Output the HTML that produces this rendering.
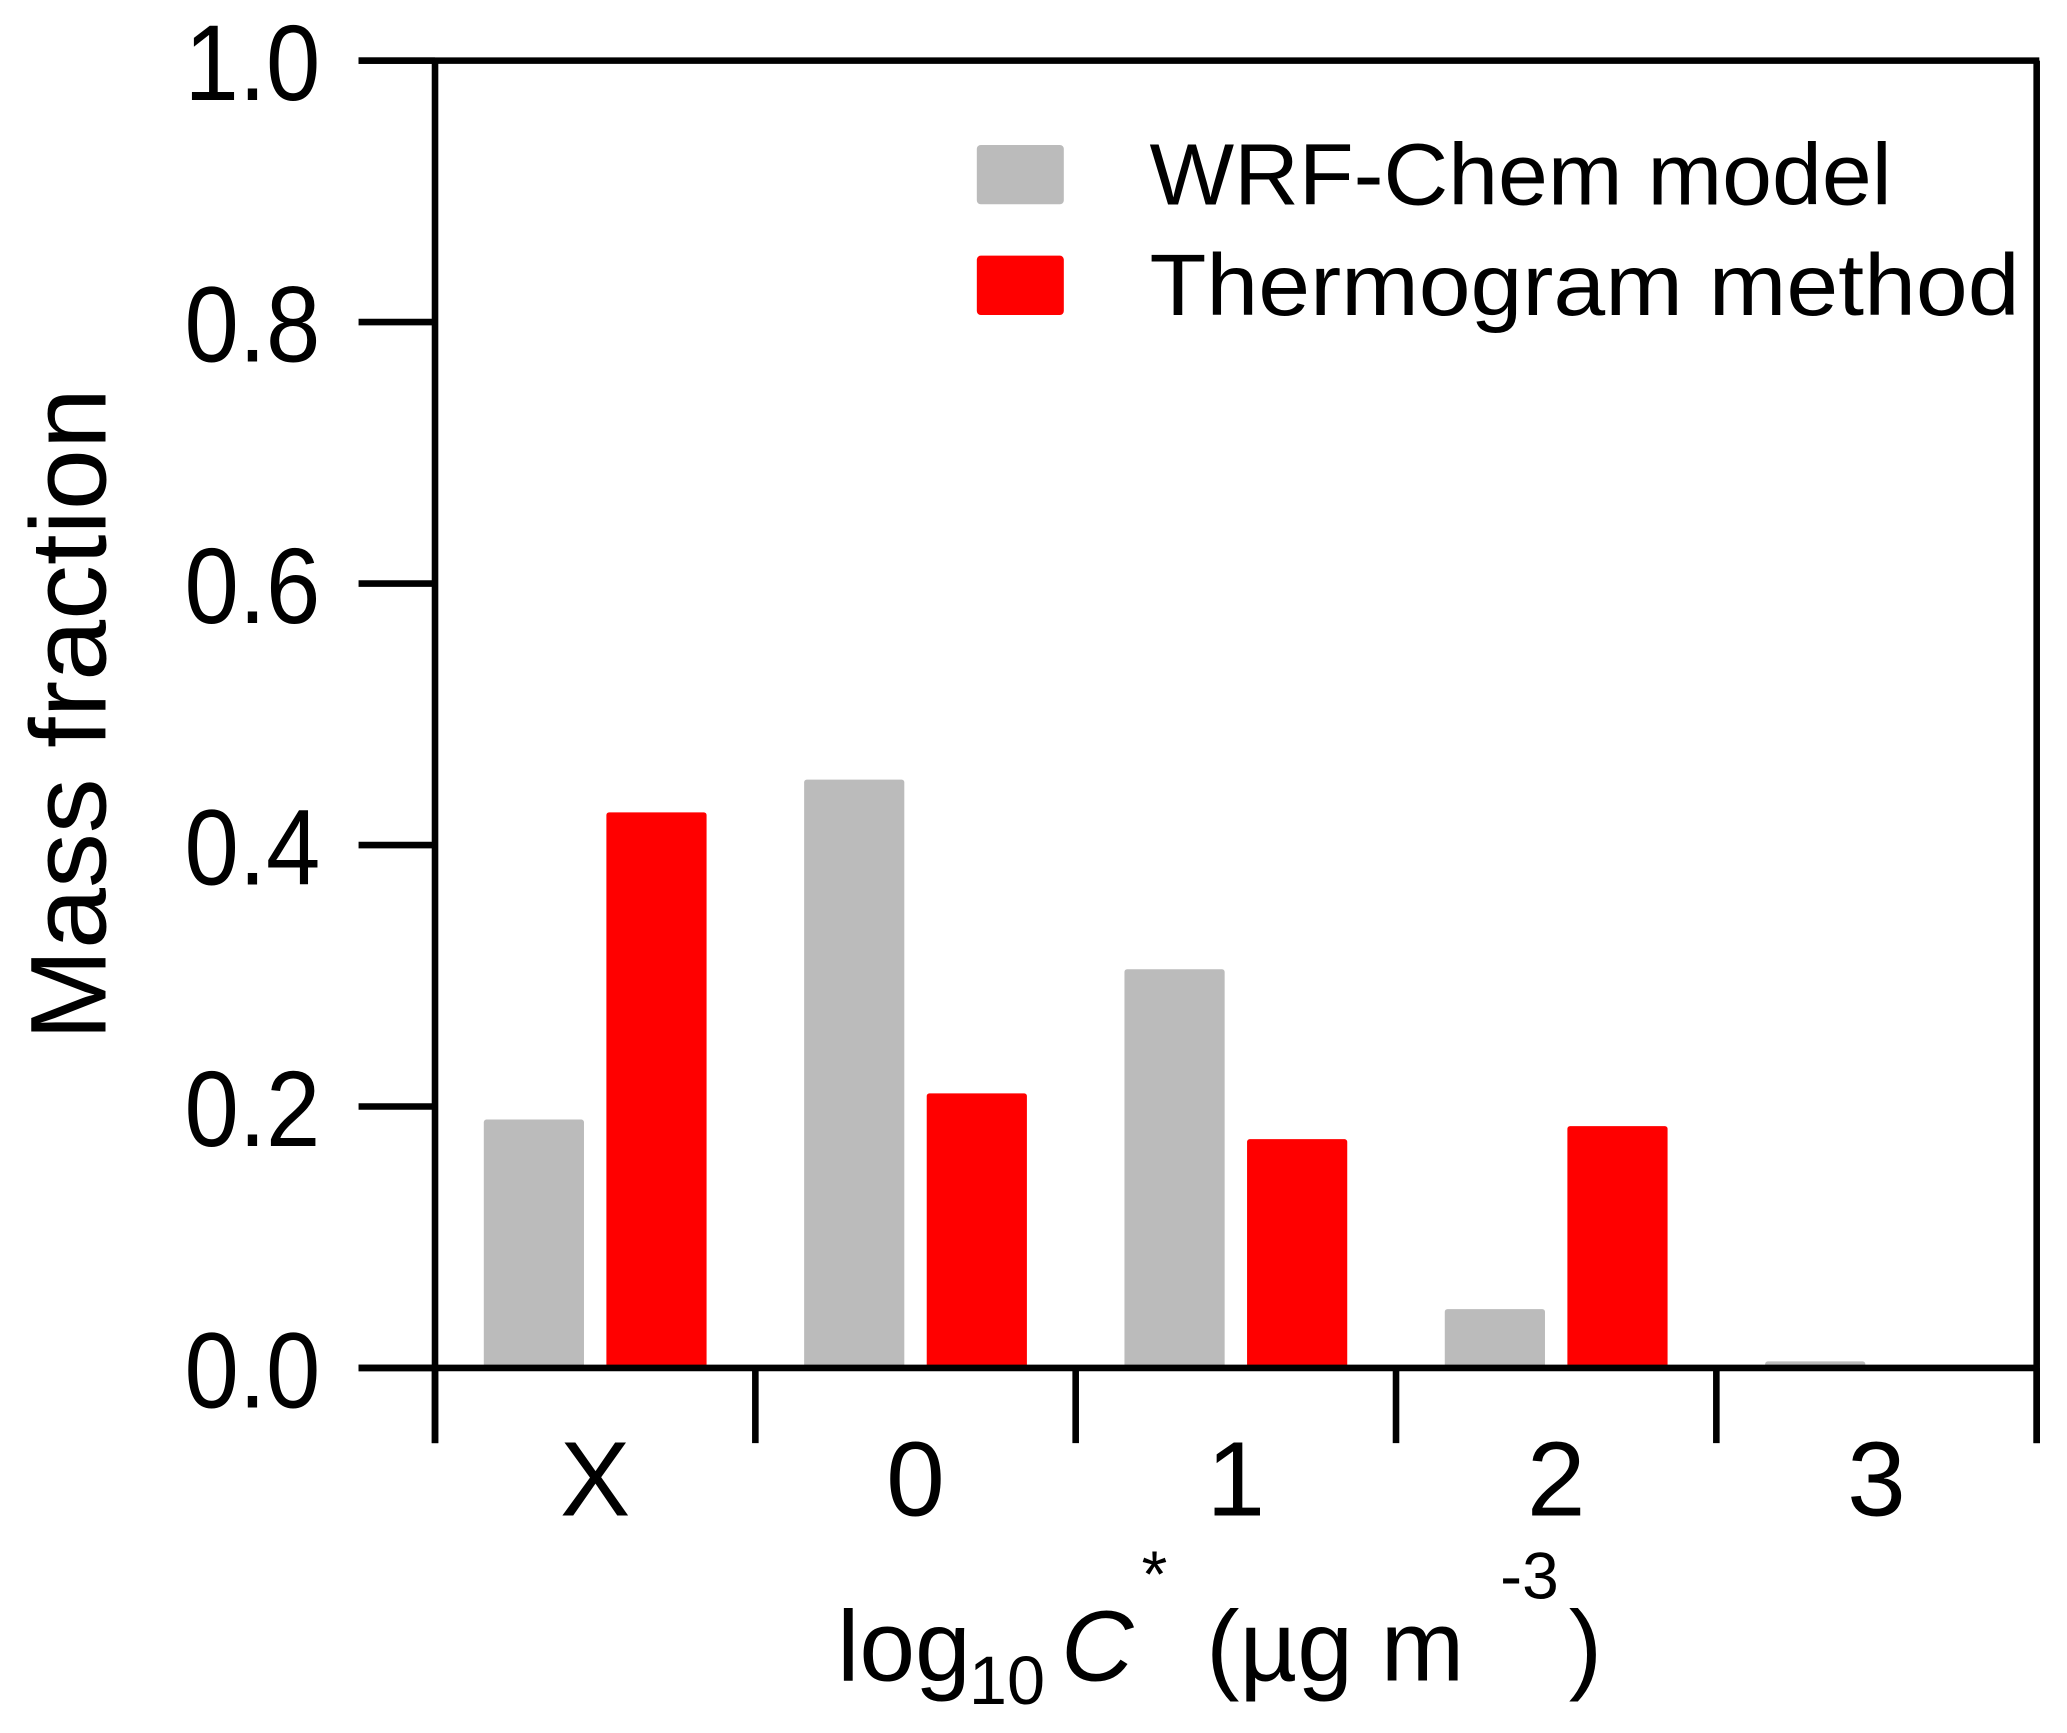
<!DOCTYPE html>
<html><head><meta charset="utf-8"><style>html,body{margin:0;padding:0;background:#fff}svg{display:block}text{font-family:"Liberation Sans",sans-serif;fill:#000}</style></head>
<body>
<svg id="chart" width="2067" height="1733" viewBox="0 0 1568 1315" preserveAspectRatio="none" xmlns="http://www.w3.org/2000/svg">
<g id="axes"></g>
<g id="bars"></g>
<g>
 <rect x="741" y="110" width="66" height="45" rx="3" fill="#bbbbbb"/>
 <text x="872" y="155" font-size="66" textLength="563" lengthAdjust="spacingAndGlyphs">WRF-Chem model</text>
 <rect x="741" y="194" width="66" height="45" rx="3" fill="#ff0000"/>
 <text x="872" y="239" font-size="66" textLength="660" lengthAdjust="spacingAndGlyphs">Thermogram method</text>
</g>
<text transform="translate(80,542) rotate(-90)" text-anchor="middle" font-size="82" textLength="495" lengthAdjust="spacingAndGlyphs">Mass fraction</text>
<text font-size="76" y="1275"><tspan x="635">log</tspan><tspan x="735" y="1293" font-size="52">10</tspan><tspan x="805" y="1275" font-style="italic">C</tspan><tspan x="866" y="1212" font-size="50">*</tspan><tspan x="915" y="1275">(µg m</tspan><tspan x="1138" y="1213" font-size="50">-3</tspan><tspan x="1190" y="1275">)</tspan></text>
</svg>
<script>
const categories = ["X","0","1","2","3"];
const wrfValues = [0.19, 0.45, 0.305, 0.045, 0.005];
const thermoValues = [0.425, 0.21, 0.175, 0.185, 0];
const yTicks = [0, 0.2, 0.4, 0.6, 0.8, 1.0];
const yTickLabels = ["0.0","0.2","0.4","0.6","0.8","1.0"];

const NS = "http://www.w3.org/2000/svg";
const L = 330, R = 1545, Y0 = 1038, Y1 = 46;
const SW = 5;
const gw = (R - L) / categories.length;
const y = v => Y0 - v * (Y0 - Y1);
const xg = i => L + i * gw;
function mk(tag, attrs, parent) {
  const e = document.createElementNS(NS, tag);
  for (const k in attrs) e.setAttribute(k, attrs[k]);
  parent.appendChild(e); return e;
}
const axes = document.getElementById("axes");
const bars = document.getElementById("bars");
let e;
e = mk("line", {x1: L, y1: Y1, x2: L, y2: 1095, stroke: "#000", "stroke-width": SW}, axes);


e = mk("line", {x1: R, y1: Y1, x2: R, y2: 1095, stroke: "#000", "stroke-width": SW}, axes);


e = mk("line", {x1: 272, y1: Y1, x2: R + 2, y2: Y1, stroke: "#000", "stroke-width": SW}, axes);


yTicks.forEach((t, i) => {
  const ln = mk("line", {x1: 272, y1: y(t), x2: L, y2: y(t), stroke: "#000", "stroke-width": SW}, axes);
  
  
  const tx = mk("text", {x: 140, y: y(t) + 30, "font-size": 82, textLength: 103, lengthAdjust: "spacingAndGlyphs"}, axes);
  tx.textContent = yTickLabels[i];
  
  
});
for (let i = 0; i <= categories.length; i++) {
  const ln = mk("line", {x1: xg(i), y1: Y0, x2: xg(i), y2: 1095, stroke: "#000", "stroke-width": SW}, axes);
  
  
}
categories.forEach((c, i) => {
  const tx = mk("text", {x: xg(i) + gw / 2, y: 1150, "text-anchor": "middle", "font-size": 80}, axes);
  tx.textContent = c;
  
  
  const g = mk("rect", {x: xg(i) + 37, y: y(wrfValues[i]), width: 76, height: Y0 - y(wrfValues[i]), rx: 2, fill: "#bbbbbb"}, bars);
  
  
  const r = mk("rect", {x: xg(i) + 130, y: y(thermoValues[i]), width: 76, height: Y0 - y(thermoValues[i]), rx: 2, fill: "#ff0000"}, bars);
  
  
});
e = mk("line", {x1: 272, y1: Y0, x2: R + 2, y2: Y0, stroke: "#000", "stroke-width": SW}, axes);


document.getElementById("chart").appendChild(axes);
</script>
</body></html>
